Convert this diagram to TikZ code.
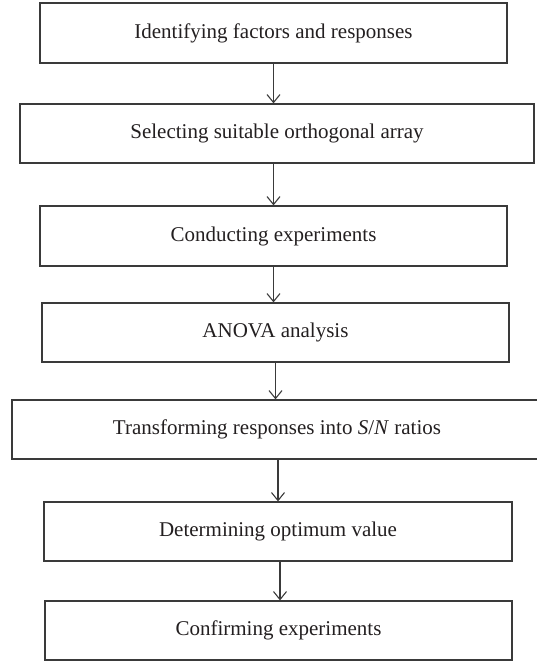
\documentclass[tikz,border=0pt]{standalone}
\usepackage{fontspec}
\setmainfont{Liberation Serif}
\usetikzlibrary{arrows.meta}
\definecolor{linegray}{HTML}{3A3A3A}
\definecolor{txt}{HTML}{231F20}
\tikzset{
  box/.style={draw=linegray, line width=1.2pt, rectangle, inner sep=0pt,
    text=txt, font=\fontsize{21}{24}\selectfont},
  arr/.style={draw=linegray, line width=1.1pt,
    -{Straight Barb[length=8pt,width=13pt,line width=1.1pt]}}
}
\begin{document}
\begin{tikzpicture}[x=1pt,y=-1pt]
\useasboundingbox (0,0) rectangle (537,661);
\node[box, minimum width=467pt, minimum height=60pt] (b1) at (273.5,33) {Identifying factors and responses};
\node[box, minimum width=514pt, minimum height=59pt] (b2) at (277,133.5) {Selecting suitable orthogonal array};
\node[box, minimum width=467pt, minimum height=60pt] (b3) at (273.5,236) {Conducting experiments};
\node[box, minimum width=467pt, minimum height=59pt] (b4) at (275.5,332.5) {ANOVA analysis};
\node[box, minimum width=530pt, minimum height=59pt] (b5) at (277,429.5) {Transforming responses into \textit{S}/\textit{N} ratios};
\node[box, minimum width=468pt, minimum height=59pt] (b6) at (278,531.5) {Determining optimum value};
\node[box, minimum width=467pt, minimum height=59pt] (b7) at (278.5,630.5) {Confirming experiments};
\draw[arr] (b1.south) -- (b1.south |- b2.north);
\draw[arr] (b3.north |- b2.south) -- (b3.north);
\draw[arr] (b3.south) -- (b3.south |- b4.north);
\draw[arr] (b4.south) -- (b4.south |- b5.north);
\draw[arr] (b6.north |- b5.south) -- (b6.north);
\draw[arr] ([xshift=2pt]b6.south) -- ([xshift=2pt]b6.south |- b7.north);
\end{tikzpicture}
\end{document}
